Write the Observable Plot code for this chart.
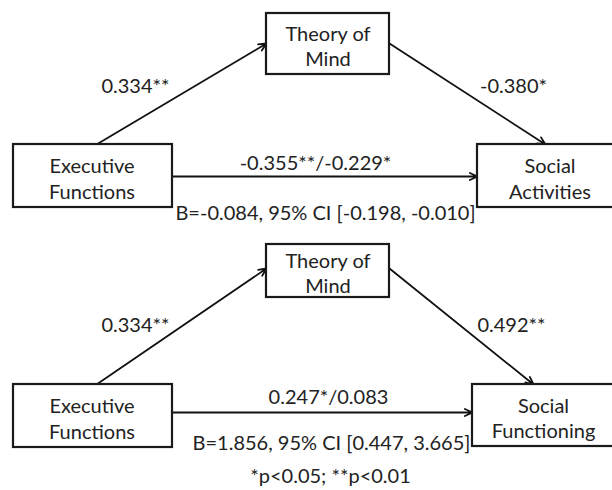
<!DOCTYPE html>
<html><head><meta charset="utf-8">
<script src="https://cdn.jsdelivr.net/npm/d3@7"></script>
<script src="https://cdn.jsdelivr.net/npm/@observablehq/plot@0.6"></script>
<style>
html,body{margin:0;padding:0;background:#fff;overflow:hidden}
#chart svg{display:block}
</style>
</head><body><div id="chart"></div>
<script>
// ---- data ----
const mediatorLabel = "Theory of\nMind";
const predictorLabel = "Executive\nFunctions";
const outcomeLabels = ["Social\nActivities", "Social\nFunctioning"];
const pathA = ["0.334**", "0.334**"];
const pathB = ["-0.380*", "0.492**"];
const pathC = ["-0.355**/-0.229*", "0.247*/0.083"];
const indirectEffects = ["B=-0.084, 95% CI [-0.198, -0.010]", "B=1.856, 95% CI [0.447, 3.665]"];
const footnote = "*p<0.05; **p<0.01";

// ---- diagram layout (diagram coordinate space) ----
const layout = [
  {med:[266,13,389,74], pred:[13,144,172,207], out:[477,144,622,207],
   aStartX:96, aY:43, bEndX:545, cY:176,
   labA:[135,86], labB:[513,86], labC:[315,163], labI:[325,213]},
  {med:[266,244,389,297], pred:[13,384,172,447], out:[472,384,614,446],
   aStartX:96, aY:268, bEndX:533, cY:412,
   labA:[135,325], labB:[511,325], labC:[328,397], labI:[331,443]}
];
const footPos = [330, 476];

const boxes = [], labels = [], arrows = [], edgeLabels = [];
layout.forEach((L, i) => {
  const items = [[L.med, mediatorLabel], [L.pred, predictorLabel], [L.out, outcomeLabels[i]]];
  for (const [b, t] of items) {
    boxes.push({x1:b[0], y1:b[1], x2:b[2], y2:b[3]});
  }
  labels.push({x:(L.med[0]+L.med[2])/2, y:(L.med[1]+L.med[3])/2 + 1.5, t:mediatorLabel});
  labels.push({x:(L.pred[0]+L.pred[2])/2 - 1, y:(L.pred[1]+L.pred[3])/2 + 2, t:predictorLabel});
  labels.push({x:(L.out[0]+L.out[2])/2, y:(L.out[1]+L.out[3])/2 + 2, t:outcomeLabels[i]});
  arrows.push({x1:L.aStartX, y1:L.pred[1], x2:L.med[0], y2:L.aY});
  arrows.push({x1:L.med[2], y1:L.aY, x2:L.bEndX, y2:L.out[1]});
  arrows.push({x1:L.pred[2], y1:L.cY, x2:L.out[0], y2:L.cY});
  edgeLabels.push({x:L.labA[0], y:L.labA[1], t:pathA[i]});
  edgeLabels.push({x:L.labB[0], y:L.labB[1], t:pathB[i]});
  edgeLabels.push({x:L.labC[0], y:L.labC[1], t:pathC[i]});
  edgeLabels.push({x:L.labI[0], y:L.labI[1], t:indirectEffects[i]});
});
edgeLabels.push({x:footPos[0], y:footPos[1], t:footnote});

const textColor = "#222";
const chart = Plot.plot({
  width: 612, height: 490,
  margin: 0,
  x: {domain:[0,612], range:[0,612], axis:null},
  y: {domain:[0,490], range:[0,490], axis:null},
  style: {fontFamily: "Lato, sans-serif", background: "#fff"},
  marks: [
    Plot.arrow(arrows, {x1:"x1", y1:"y1", x2:"x2", y2:"y2", stroke:"#111", strokeWidth:1.8, headLength:7, headAngle:50}),
    Plot.rect(boxes, {x1:"x1", y1:"y1", x2:"x2", y2:"y2", fill:"white", stroke:"#1a1a1a", strokeWidth:2.2}),
    Plot.text(labels, {x:"x", y:"y", text:"t", fontSize:20, lineHeight:1.27, fill:textColor}),
    Plot.text(edgeLabels, {x:"x", y:"y", text:"t", fontSize:20, fill:textColor})
  ]
});
document.getElementById("chart").appendChild(chart);
</script>
</body></html>
